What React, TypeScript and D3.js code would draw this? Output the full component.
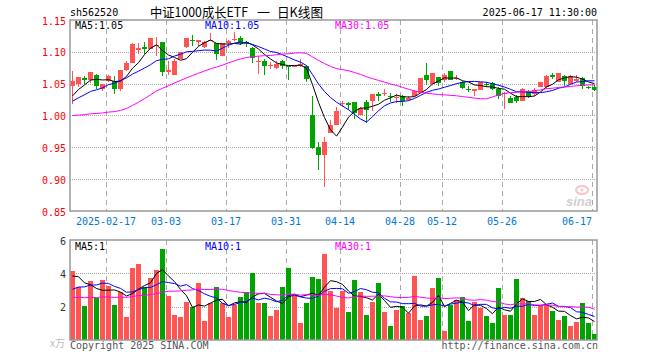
import React, { useEffect, useRef } from 'react';
import * as d3 from 'd3';

// trading days shown on the chart
const dates = [
  '2025-02-07', '2025-02-10', '2025-02-11', '2025-02-12', '2025-02-13', '2025-02-14',
  '2025-02-17', '2025-02-18', '2025-02-19', '2025-02-20', '2025-02-21',
  '2025-02-24', '2025-02-25', '2025-02-26', '2025-02-27', '2025-02-28',
  '2025-03-03', '2025-03-04', '2025-03-05', '2025-03-06', '2025-03-07',
  '2025-03-10', '2025-03-11', '2025-03-12', '2025-03-13', '2025-03-14',
  '2025-03-17', '2025-03-18', '2025-03-19', '2025-03-20', '2025-03-21',
  '2025-03-24', '2025-03-25', '2025-03-26', '2025-03-27', '2025-03-28',
  '2025-03-31', '2025-04-01', '2025-04-02', '2025-04-03',
  '2025-04-07', '2025-04-08', '2025-04-09', '2025-04-10', '2025-04-11',
  '2025-04-14', '2025-04-15', '2025-04-16', '2025-04-17', '2025-04-18',
  '2025-04-21', '2025-04-22', '2025-04-23', '2025-04-24', '2025-04-25',
  '2025-04-28', '2025-04-29', '2025-04-30',
  '2025-05-06', '2025-05-07', '2025-05-08', '2025-05-09',
  '2025-05-12', '2025-05-13', '2025-05-14', '2025-05-15', '2025-05-16',
  '2025-05-19', '2025-05-20', '2025-05-21', '2025-05-22', '2025-05-23',
  '2025-05-26', '2025-05-27', '2025-05-28', '2025-05-29', '2025-05-30',
  '2025-06-03', '2025-06-04', '2025-06-05', '2025-06-06',
  '2025-06-09', '2025-06-10', '2025-06-11', '2025-06-12', '2025-06-13',
  '2025-06-16', '2025-06-17',
];

const opens = [
  1.047, 1.049, 1.059, 1.055, 1.064, 1.042, 1.054, 1.054, 1.041, 1.071,
  1.083, 1.103, 1.107, 1.105, 1.109, 1.115, 1.069, 1.063, 1.088, 1.108,
  1.119, 1.115, 1.108, 1.118, 1.114, 1.094, 1.114, 1.118, 1.122, 1.116,
  1.106, 1.084, 1.086, 1.077, 1.075, 1.086, 1.078, 1.076, 1.077, 1.077,
  1.001, 0.950, 0.938, 0.973, 0.985, 1.018, 1.020, 1.021, 1.001, 1.021,
  1.023, 1.033, 1.033, 1.031, 1.028, 1.030, 1.024, 1.031, 1.035, 1.064,
  1.049, 1.061, 1.056, 1.070, 1.058, 1.053, 1.042, 1.038, 1.040, 1.050,
  1.051, 1.041, 1.033, 1.028, 1.029, 1.022, 1.038, 1.034, 1.044, 1.044,
  1.063, 1.053, 1.062, 1.050, 1.054, 1.059, 1.045, 1.045,
];
const highs = [
  1.070, 1.061, 1.062, 1.068, 1.065, 1.050, 1.063, 1.062, 1.072, 1.085,
  1.114, 1.114, 1.115, 1.122, 1.124, 1.115, 1.085, 1.088, 1.099, 1.122,
  1.127, 1.119, 1.117, 1.130, 1.114, 1.114, 1.119, 1.131, 1.125, 1.117,
  1.107, 1.094, 1.089, 1.084, 1.086, 1.087, 1.078, 1.080, 1.089, 1.079,
  1.031, 0.959, 0.966, 0.993, 1.014, 1.022, 1.021, 1.021, 1.013, 1.025,
  1.034, 1.037, 1.042, 1.036, 1.034, 1.032, 1.030, 1.040, 1.059, 1.083,
  1.067, 1.061, 1.066, 1.070, 1.063, 1.054, 1.046, 1.041, 1.052, 1.052,
  1.053, 1.044, 1.037, 1.030, 1.032, 1.043, 1.040, 1.043, 1.053, 1.063,
  1.066, 1.067, 1.063, 1.063, 1.063, 1.060, 1.047, 1.048,
];
const lows = [
  1.018, 1.044, 1.049, 1.051, 1.042, 1.038, 1.053, 1.033, 1.038, 1.070,
  1.083, 1.096, 1.096, 1.104, 1.093, 1.062, 1.063, 1.063, 1.088, 1.106,
  1.109, 1.109, 1.106, 1.117, 1.087, 1.093, 1.106, 1.117, 1.111, 1.108,
  1.083, 1.065, 1.063, 1.073, 1.073, 1.073, 1.055, 1.076, 1.076, 1.052,
  0.948, 0.915, 0.888, 0.973, 0.985, 1.014, 1.008, 0.995, 1.000, 0.988,
  1.007, 1.023, 1.030, 1.021, 1.019, 1.015, 1.022, 1.029, 1.035, 1.048,
  1.048, 1.046, 1.053, 1.056, 1.055, 1.041, 1.037, 1.030, 1.040, 1.045,
  1.040, 1.026, 1.010, 1.019, 1.019, 1.022, 1.028, 1.031, 1.044, 1.042,
  1.057, 1.052, 1.046, 1.049, 1.052, 1.042, 1.041, 1.038,
];
const closes = [
  1.054, 1.060, 1.056, 1.068, 1.046, 1.049, 1.062, 1.042, 1.071, 1.083,
  1.113, 1.106, 1.105, 1.121, 1.110, 1.068, 1.071, 1.086, 1.099, 1.122,
  1.118, 1.118, 1.115, 1.119, 1.096, 1.114, 1.117, 1.120, 1.114, 1.112,
  1.091, 1.085, 1.077, 1.079, 1.081, 1.078, 1.077, 1.078, 1.081, 1.057,
  0.949, 0.938, 0.959, 0.985, 1.007, 1.020, 1.016, 1.004, 1.011, 1.008,
  1.034, 1.031, 1.036, 1.030, 1.029, 1.022, 1.028, 1.039, 1.059, 1.056,
  1.066, 1.051, 1.064, 1.056, 1.059, 1.043, 1.041, 1.041, 1.052, 1.049,
  1.041, 1.030, 1.035, 1.020, 1.022, 1.041, 1.030, 1.040, 1.052, 1.062,
  1.061, 1.066, 1.054, 1.062, 1.058, 1.046, 1.044, 1.040,
];
// volume, x万
const volumes = [
  4.14, 3.2, 2.04, 3.54, 2.54, 3.6, 3.24, 2.1, 2.9, 1.36,
  4.34, 4.58, 3.16, 3.7, 4.2, 5.46, 2.66, 1.5, 1.36, 2.3,
  1.96, 3.4, 1.16, 2.24, 3.2, 2.24, 1.36, 2.1, 2.6, 2.9,
  4.0, 2.24, 2.24, 1.44, 1.8, 3.2, 4.34, 2.64, 1.04, 2.24,
  3.8, 3.66, 5.14, 2.96, 1.94, 2.96, 1.7, 3.6, 2.9, 1.5,
  2.3, 3.44, 1.7, 0.86, 1.8, 2.04, 1.64, 3.86, 1.2, 1.44,
  3.14, 3.74, 0.56, 2.1, 2.4, 2.6, 1.16, 2.3, 1.94, 1.44,
  1.04, 3.14, 1.5, 1.5, 3.66, 2.54, 2.36, 1.5, 2.1, 2.1,
  1.76, 1.2, 1.44, 0.84, 1.1, 2.24, 1.0, 0.36,
];

// sessions before the window, only used to seed the moving averages
const closesBefore = [
  1.04, 1.035, 1.03, 1.03, 1.025, 1.02, 1.02, 1.016,
  0.99, 0.97, 0.955, 0.94, 0.935, 0.93, 0.94, 0.948,
  0.96, 0.98, 1.0, 1.012,
  1.005, 1.01, 1.015, 1.02, 1.02,
  1.01, 1.02, 1.03, 1.04,
];
const volumesBefore = [
  3.0, 2.8, 3.2, 2.6, 2.5, 3.4, 2.9, 2.2, 2.0, 2.6, 3.1, 2.4, 2.5, 2.7, 2.36,
  1.4, 1.2, 0.9, 1.1, 1.44,
  1.8, 2.0, 2.4, 2.5, 2.5,
  3.4, 3.9, 4.1, 3.66,
];

const priceTicks = [0.85, 0.9, 0.95, 1.0, 1.05, 1.1, 1.15];
const volumeTicks = [2, 4, 6];
const dateTicks = ['2025-02-17', '2025-03-03', '2025-03-17', '2025-03-31', '2025-04-14',
  '2025-04-28', '2025-05-12', '2025-05-26', '2025-06-17'];

function movingAverage(before: number[], values: number[], n: number) {
  const all = before.concat(values);
  const off = before.length;
  return values.map((_, i) => d3.mean(all.slice(off + i - n + 1, off + i + 1)) as number);
}

export default function App() {
  const ref = useRef<SVGSVGElement>(null);

  useEffect(() => {
    const svg = d3.select(ref.current);
    svg.selectAll('*').remove();

    const left = 70, right = 597, top = 20, bottom = 211;
    const vTop = 240, vBottom = 340;
    const slot = 6, bodyW = 5;
    const mono = '"DejaVu Sans Mono", monospace';
    const cjk = '"Noto Sans CJK SC", sans-serif';
    const red = '#ff5454', green = '#00a400';

    const x = d3.scaleLinear().domain([0, dates.length]).range([left, left + slot * dates.length]);
    const y = d3.scaleLinear().domain([0.85, 1.15]).range([bottom, top]);
    const yv = d3.scaleLinear().domain([0, 6]).range([vBottom, vTop]);

    // header
    svg.append('text').attr('x', 70).attr('y', 16).attr('font-family', mono).attr('font-size', 10)
      .text('sh562520');
    svg.append('text').attr('x', 150).attr('y', 17).attr('font-family', cjk).attr('font-size', 13)
      .attr('textLength', 98).attr('lengthAdjust', 'spacingAndGlyphs').text('中证1000成长ETF');
    svg.append('text').attr('x', 257).attr('y', 17).attr('font-family', cjk).attr('font-size', 13).text('一');
    svg.append('text').attr('x', 277).attr('y', 17).attr('font-family', cjk).attr('font-size', 13)
      .attr('textLength', 46).attr('lengthAdjust', 'spacingAndGlyphs').text('日K线图');
    svg.append('text').attr('x', 597).attr('y', 16).attr('text-anchor', 'end').attr('font-family', mono)
      .attr('font-size', 10).text('2025-06-17 11:30:00');

    // grid
    const grid = svg.append('g').attr('shape-rendering', 'crispEdges');
    priceTicks.slice(1, -1).forEach(t => {
      grid.append('line').attr('x1', left).attr('x2', right).attr('y1', Math.round(y(t)) + 0.5).attr('y2', Math.round(y(t)) + 0.5)
        .attr('stroke', '#aaa').attr('stroke-dasharray', '1,1');
    });
    volumeTicks.slice(0, -1).forEach(t => {
      grid.append('line').attr('x1', left).attr('x2', right).attr('y1', Math.round(yv(t)) + 0.5).attr('y2', Math.round(yv(t)) + 0.5)
        .attr('stroke', '#aaa').attr('stroke-dasharray', '1,1');
    });
    dateTicks.forEach(d => {
      const gx = x(dates.indexOf(d)) + 0.5;
      grid.append('line').attr('x1', gx).attr('x2', gx).attr('y1', top).attr('y2', bottom)
        .attr('stroke', '#aaa').attr('stroke-dasharray', '5,4');
      grid.append('line').attr('x1', gx).attr('x2', gx).attr('y1', vTop).attr('y2', vBottom)
        .attr('stroke', '#aaa').attr('stroke-dasharray', '5,4');
    });

    // axis labels
    priceTicks.forEach(t => {
      svg.append('text').attr('x', 66).attr('y', y(t) + 4.5).attr('text-anchor', 'end')
        .attr('font-family', mono).attr('font-size', 10).attr('fill', '#f00').text(d3.format('.2f')(t));
    });
    volumeTicks.forEach(t => {
      svg.append('text').attr('x', 66).attr('y', yv(t) + 4.5).attr('text-anchor', 'end')
        .attr('font-family', mono).attr('font-size', 10).attr('fill', '#333').text(t);
    });
    dateTicks.forEach((d, k) => {
      const label = k === 0 ? d : d.slice(5);
      const w = label.length * 6;
      let cx = x(dates.indexOf(d));
      if (cx + w / 2 > right - 4) cx = right - 5 - w / 2;
      svg.append('text').attr('x', cx).attr('y', 225).attr('text-anchor', 'middle')
        .attr('font-family', mono).attr('font-size', 10).attr('fill', '#0078d7').text(label);
    });

    // sina watermark
    const wm = svg.append('g').attr('opacity', 0.45);
    wm.append('ellipse').attr('cx', 582).attr('cy', 190).attr('rx', 6).attr('ry', 4)
      .attr('fill', 'none').attr('stroke', '#f08080').attr('stroke-width', 2);
    wm.append('circle').attr('cx', 582).attr('cy', 190).attr('r', 1.5).attr('fill', '#f08080');
    wm.append('text').attr('x', 566).attr('y', 206).attr('font-family', 'Liberation Sans, sans-serif')
      .attr('font-style', 'italic').attr('font-weight', 'bold').attr('font-size', 13).attr('fill', '#999').text('sina');

    // candles
    const candles = svg.append('g').attr('shape-rendering', 'crispEdges');
    dates.forEach((_, i) => {
      const o = opens[i], c = closes[i];
      const col = c >= o ? red : green;
      const bx = x(i);
      candles.append('rect').attr('x', bx + 2).attr('width', 1)
        .attr('y', Math.round(y(highs[i]))).attr('height', Math.max(1, Math.round(y(lows[i])) - Math.round(y(highs[i]))))
        .attr('fill', col);
      const y1 = Math.round(y(Math.max(o, c))), y2 = Math.round(y(Math.min(o, c)));
      candles.append('rect').attr('x', bx).attr('width', bodyW)
        .attr('y', y1).attr('height', Math.max(1, y2 - y1)).attr('fill', col);
    });

    // volume bars
    const bars = svg.append('g').attr('shape-rendering', 'crispEdges');
    volumes.forEach((v, i) => {
      bars.append('rect').attr('x', x(i)).attr('width', bodyW)
        .attr('y', Math.round(yv(v))).attr('height', vBottom - Math.round(yv(v)))
        .attr('fill', closes[i] >= opens[i] ? red : green);
    });

    // moving averages
    const maColors = ['#000', '#0000ff', '#ff00ff'];
    const periods = [5, 10, 30];
    const priceMa = periods.map(n => movingAverage(closesBefore, closes, n));
    const volMa = periods.map(n => movingAverage(volumesBefore, volumes, n));
    const line = (sc: d3.ScaleLinear<number, number>) =>
      d3.line<number>().x((_, i) => x(i) + 2.5).y(d => sc(d));
    priceMa.forEach((ma, k) => {
      svg.append('path').attr('d', line(y)(ma)).attr('fill', 'none').attr('stroke', maColors[k]).attr('stroke-width', 1);
    });
    volMa.forEach((ma, k) => {
      svg.append('path').attr('d', line(yv)(ma)).attr('fill', 'none').attr('stroke', maColors[k]).attr('stroke-width', 1);
    });

    // frames
    svg.append('rect').attr('x', left).attr('y', top).attr('width', right - left).attr('height', bottom - top)
      .attr('fill', 'none').attr('stroke', '#999').attr('stroke-width', 1.5);
    svg.append('rect').attr('x', left).attr('y', vTop).attr('width', right - left).attr('height', vBottom - vTop)
      .attr('fill', 'none').attr('stroke', '#999').attr('stroke-width', 1.5);

    // legends
    const legendX = [75, 205, 335];
    periods.forEach((n, k) => {
      const last = priceMa[k][closes.length - 1];
      svg.append('text').attr('x', legendX[k]).attr('y', 29).attr('font-family', mono).attr('font-size', 10)
        .attr('fill', maColors[k]).text('MA' + n + ':' + last.toFixed(2));
      const lastV = volMa[k][volumes.length - 1];
      svg.append('text').attr('x', legendX[k]).attr('y', 250).attr('font-family', mono).attr('font-size', 10)
        .attr('fill', maColors[k]).text('MA' + n + ':' + Math.floor(lastV));
    });

    // footer
    svg.append('text').attr('x', 50).attr('y', 347).attr('font-family', cjk)
      .attr('font-size', 10).attr('fill', '#bbb').text('x万');
    svg.append('text').attr('x', 70).attr('y', 349).attr('font-family', mono).attr('font-size', 10)
      .attr('fill', '#555').text('Copyright 2025 SINA.COM');
    svg.append('text').attr('x', 598).attr('y', 349).attr('text-anchor', 'end').attr('font-family', mono)
      .attr('font-size', 10).attr('fill', '#555').text('http://finance.sina.com.cn');
  }, []);

  return (
    <svg ref={ref} width={660} height={360}
      style={{ position: 'absolute', left: 0, top: 0, background: '#fff' }} />
  );
}
